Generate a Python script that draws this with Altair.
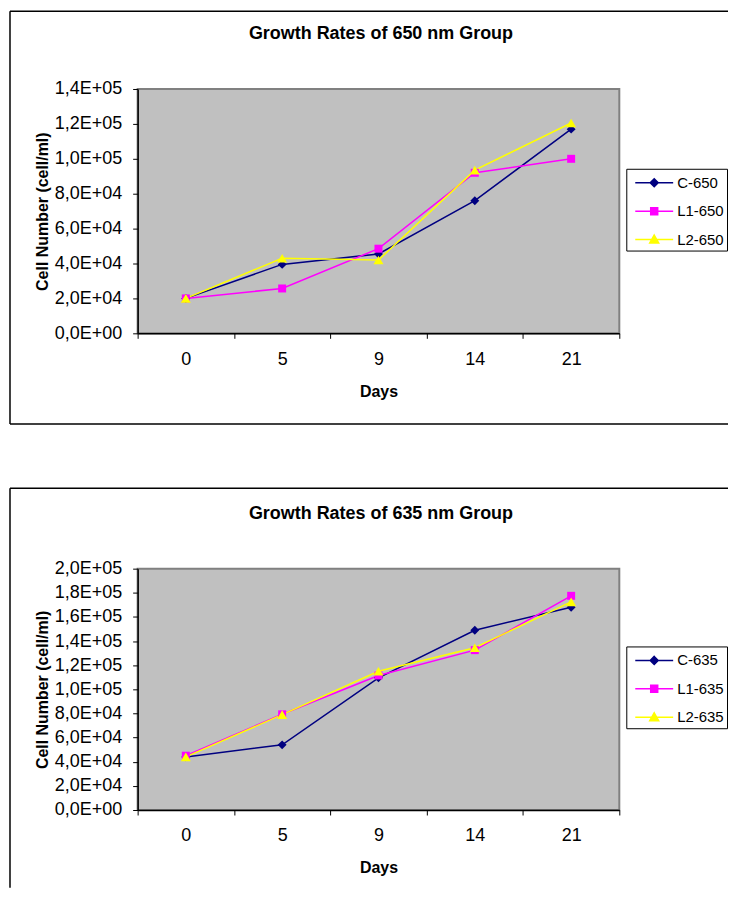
import altair as alt
import pandas as pd

# ---------------- data ----------------
days = ["0", "5", "9", "14", "21"]

series_650 = ["C-650", "L1-650", "L2-650"]
c_650 = [20000, 39500, 45500, 76000, 117000]
l1_650 = [20000, 25700, 48500, 92000, 100000]
l2_650 = [20000, 43000, 42000, 93500, 120500]

series_635 = ["C-635", "L1-635", "L2-635"]
c_635 = [44000, 54000, 109500, 149000, 168000]
l1_635 = [45000, 79300, 111500, 132500, 177500]
l2_635 = [44000, 79000, 115000, 134500, 172500]

title_650 = "Growth Rates of 650 nm Group"
title_635 = "Growth Rates of 635 nm Group"
x_title = "Days"
y_title = "Cell Number (cell/ml)"

# ---------------- styles ----------------
FONT = "Liberation Sans"
colors = ["#000080", "#FF00FF", "#FFFF00"]
marker_shapes = ["diamond", "square", "triangle-up"]
marker_sizes = [80, 64, 100]
# legend symbols: short line with the marker in the middle (unit = 10 px)
legend_paths = [
    "M-1.9,0L1.9,0M0,-0.4L0.4,0L0,0.4L-0.4,0Z",
    "M-1.9,0L1.9,0M-0.35,-0.35L0.35,-0.35L0.35,0.35L-0.35,0.35Z",
    "M-1.9,0L1.9,0M0,-0.45L0.45,0.35L-0.45,0.35Z",
]

LABEL_EXPR = "replace(replace(format(datum.value, '.1e'), 'e+', 'E+0'), '.', ',')"


def make_panel(series, values, title, ymax, ystep, height, legend_y,
               frame_top, frame_bottom, left_bottom, draw_bottom):
    rows = []
    for s, vals in zip(series, values):
        for i, (d, v) in enumerate(zip(days, vals)):
            rows.append({"day": d, "idx": i, "series": s, "value": v})
    df = pd.DataFrame(rows)
    base = alt.Chart(df)

    x = alt.X(
        "day:N", sort=days,
        scale=alt.Scale(type="band", paddingInner=0, paddingOuter=0),
        axis=alt.Axis(title=x_title, labelAngle=0, tickBand="extent",
                      labelPadding=12, titlePadding=15),
    )
    y = alt.Y(
        "value:Q",
        scale=alt.Scale(domain=[0, ymax], nice=False),
        axis=alt.Axis(title=y_title, values=list(range(0, ymax + 1, ystep)),
                      labelExpr=LABEL_EXPR, grid=False,
                      labelPadding=11, titlePadding=4),
    )
    # data-driven domain (sorted) so this scale is not merged with the legend ones
    color = alt.Color("series:N", sort=series, scale=alt.Scale(range=colors),
                      legend=None)

    layers = [
        base.mark_line(strokeWidth=1.5).encode(
            x=x, y=y, color=color, order="idx:Q")
    ]
    for s, sh, sz in zip(series, marker_shapes, marker_sizes):
        layers.append(
            base.transform_filter(alt.datum.series == s)
            .mark_point(filled=True, shape=sh, size=sz, opacity=1)
            .encode(x=x, y=y, color=color)
        )

    leg = alt.Legend(
        title=None, orient="none", legendX=490, legendY=legend_y,
        strokeColor="black", fillColor="white", padding=3,
        labelFont=FONT, labelFontSize=15, labelColor="black",
        symbolSize=400, symbolStrokeWidth=1.5, symbolOffset=14,
        labelOffset=12, rowPadding=9.5, symbolOpacity=1,
    )
    layers.append(
        base.transform_filter("false").mark_point(opacity=1).encode(
            shape=alt.Shape("series:N",
                            scale=alt.Scale(domain=series, range=legend_paths),
                            legend=leg),
            stroke=alt.Stroke("series:N",
                              scale=alt.Scale(domain=series, range=colors),
                              legend=leg),
            fill=alt.Fill("series:N",
                          scale=alt.Scale(domain=series, range=colors),
                          legend=leg),
        )
    )

    # chart title as text, placed above the plot area
    layers.append(
        alt.Chart(alt.Data(values=[{"t": title}])).mark_text(
            font=FONT, fontSize=18, fontWeight="bold", color="black",
            align="center", baseline="middle",
        ).encode(text="t:N", x=alt.value(244), y=alt.value(-55))
    )

    # outer chart frame (Excel chart area border)
    fdata = alt.Data(values=[{"k": 0}])
    frame = alt.Chart(fdata).mark_rule(color="black", strokeWidth=1.5)
    layers.append(frame.encode(x=alt.value(-128), x2=alt.value(592),
                               y=alt.value(frame_top)))
    layers.append(frame.encode(x=alt.value(-128), y=alt.value(frame_top),
                               y2=alt.value(left_bottom)))
    if draw_bottom:
        layers.append(frame.encode(x=alt.value(-128), x2=alt.value(592),
                                   y=alt.value(frame_bottom)))

    return alt.layer(*layers).properties(
        width=483, height=height,
        view=alt.ViewBackground(fill="#C0C0C0", stroke="#808080",
                                strokeWidth=2),
    )


top = make_panel(series_650, [c_650, l1_650, l2_650], title_650,
                 140000, 20000, 245, 80, -78, 336, 336, True)
bottom = make_panel(series_635, [c_635, l1_635, l2_635], title_635,
                    200000, 20000, 242, 78, -80.7, 0, 320, False)

chart = (
    alt.vconcat(top, bottom, spacing=236, bounds="flush")
    .resolve_scale(color="independent", shape="independent",
                   fill="independent", stroke="independent",
                   x="independent", y="independent")
    .properties(padding=0)
    .configure_axis(labelFont=FONT, titleFont=FONT, labelFontSize=18,
                    titleFontSize=16, titleFontWeight="bold",
                    labelColor="black", titleColor="black",
                    domainColor="black", tickColor="black", tickSize=5,
                    domainWidth=1.5, tickWidth=1)
)

chart.save("out.html", embed_options={"renderer": "svg", "actions": False})
